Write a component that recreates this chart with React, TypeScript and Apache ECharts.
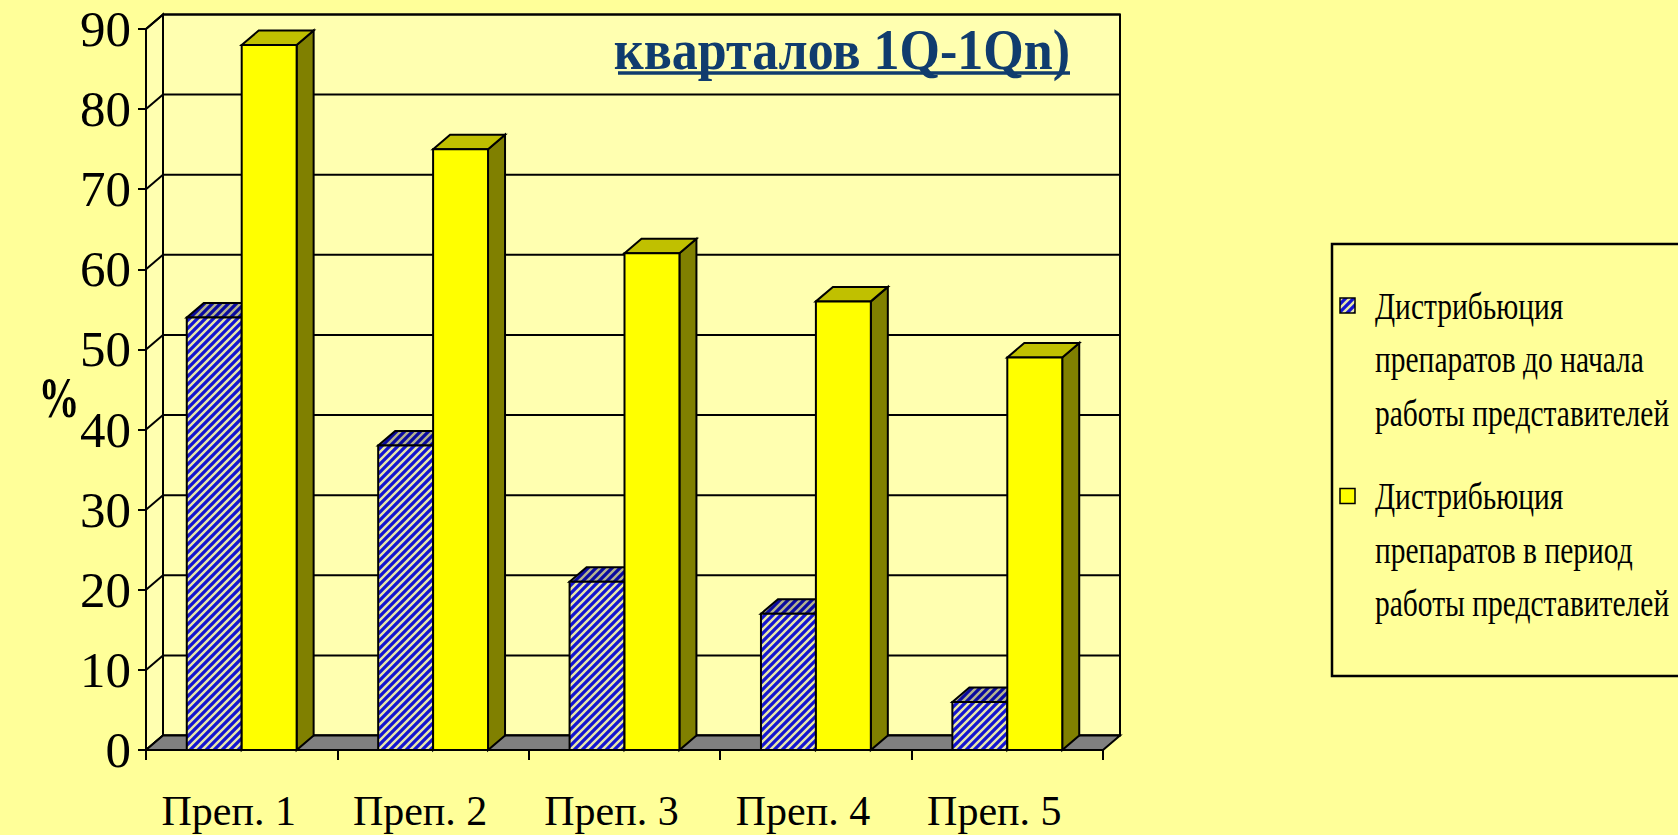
import React, { useEffect, useRef } from "react";
import * as echarts from "echarts";

// ---------- data ----------
const categories = ["Преп. 1", "Преп. 2", "Преп. 3", "Преп. 4", "Преп. 5"];
const beforeValues = [54, 38, 21, 17, 6];
const duringValues = [88, 75, 62, 56, 49];
const yTicks = [0, 10, 20, 30, 40, 50, 60, 70, 80, 90];
const seriesNames = [
  "Дистрибьюция препаратов до начала работы представителей",
  "Дистрибьюция препаратов в период работы представителей",
];
const legendLines1 = ["Дистрибьюция", "препаратов до начала", "работы представителей"];
const legendLines2 = ["Дистрибьюция", "препаратов в период", "работы представителей"];
const titleText = "кварталов 1Q-1Qn)";
const axisUnit = "%";

// ---------- style ----------
const FONT = "'Liberation Serif', 'Times New Roman', serif";
const BG = "#FFFF99";
const WALL = "#FFFFB0";
const DX = 17;
const DY = -14.5;
const BAR_FRAC = 0.287;
const LW = 2;

function hatch(bg: string, stripe: string) {
  const svg =
    `<svg xmlns="http://www.w3.org/2000/svg" width="8" height="8">` +
    `<rect width="8" height="8" fill="${bg}"/>` +
    `<path d="M-2 2L2 -2M0 8L8 0M6 10L10 6" stroke="${stripe}" stroke-width="2.4"/></svg>`;
  return {
    image: "data:image/svg+xml;charset=utf-8," + encodeURIComponent(svg),
    repeat: "repeat",
    imageWidth: 8,
    imageHeight: 8,
  } as any;
}

const hatchFront = hatch("#1414D0", "#E8E8A8");
const hatchTop = hatch("#0A0AA0", "#B4B48C");

function renderFrame(params: any, api: any) {
  const cs = params.coordSys;
  const x0 = cs.x;
  const x1 = cs.x + cs.width;
  const yBottom = api.coord([0, 0])[1];
  const yTop = api.coord([0, yTicks[yTicks.length - 1]])[1];
  const st = { stroke: "#000", lineWidth: LW };
  const children: any[] = [];
  children.push({
    type: "rect",
    shape: { x: x0 + DX, y: yTop + DY, width: x1 - x0, height: yBottom - yTop },
    style: { fill: WALL, ...st },
  });
  children.push({
    type: "polygon",
    shape: { points: [[x0, yTop], [x0 + DX, yTop + DY], [x0 + DX, yBottom + DY], [x0, yBottom]] },
    style: { fill: WALL, ...st },
  });
  yTicks.forEach((v) => {
    const y = api.coord([0, v])[1];
    children.push({
      type: "line",
      shape: { x1: x0 + DX, y1: y + DY, x2: x1 + DX, y2: y + DY },
      style: st,
    });
    children.push({
      type: "line",
      shape: { x1: x0, y1: y, x2: x0 + DX, y2: y + DY },
      style: st,
    });
  });
  children.push({
    type: "polygon",
    shape: { points: [[x0, yBottom], [x0 + DX, yBottom + DY], [x1 + DX, yBottom + DY], [x1, yBottom]] },
    style: { fill: "#808080", ...st },
  });
  return { type: "group", children };
}

function makeBarRender(side: number, front: any, sideFill: any, topFill: any) {
  return (params: any, api: any) => {
    const idx = api.value(0);
    const val = api.value(1);
    const p = api.coord([idx, val]);
    const cx = p[0];
    const yTop = p[1];
    const yBase = api.coord([idx, 0])[1];
    const band = api.size([1, 0])[0];
    const bw = band * BAR_FRAC;
    const xa = side < 0 ? cx - bw : cx;
    const xb = xa + bw;
    const st = { stroke: "#000", lineWidth: LW };
    return {
      type: "group",
      children: [
        {
          type: "polygon",
          shape: { points: [[xb, yTop], [xb + DX, yTop + DY], [xb + DX, yBase + DY], [xb, yBase]] },
          style: { fill: sideFill, ...st },
        },
        {
          type: "polygon",
          shape: { points: [[xa, yTop], [xa + DX, yTop + DY], [xb + DX, yTop + DY], [xb, yTop]] },
          style: { fill: topFill, ...st },
        },
        {
          type: "rect",
          shape: { x: xa, y: yTop, width: bw, height: yBase - yTop },
          style: { fill: front, ...st },
        },
      ],
    };
  };
}

function txt(x: number, y: number, text: string, font: string, fill: string, align: string, sy = 1) {
  return {
    type: "text",
    x,
    y,
    z: 20,
    scaleY: sy,
    style: {
      text,
      font,
      fill,
      align,
      verticalAlign: "middle",
      textAlign: align,
      textVerticalAlign: "middle",
    },
  };
}

function buildLegend() {
  const els: any[] = [];
  els.push({
    type: "rect",
    z: 15,
    shape: { x: 1332, y: 244, width: 400, height: 432 },
    style: { fill: "none", stroke: "#000", lineWidth: 2.5 },
  });
  const lineH = 53.5;
  const starts = [305, 495.5];
  const lines = [legendLines1, legendLines2];
  const marks = [hatchFront, "#FFFF00"];
  lines.forEach((ls, k) => {
    els.push({
      type: "rect",
      z: 20,
      shape: { x: 1340, y: starts[k] - 7, width: 15, height: 15 },
      style: { fill: marks[k], stroke: "#000", lineWidth: 1.5 },
    });
    ls.forEach((t, j) => {
      els.push(txt(1375, starts[k] + j * lineH, t, `29.5px ${FONT}`, "#000", "left", 1.32));
    });
  });
  return els;
}

function buildOption() {
  return {
    animation: false,
    backgroundColor: BG,
    grid: { left: 146, right: 575, top: 29, bottom: 85, containLabel: false },
    xAxis: {
      type: "category",
      data: categories,
      z: 10,
      axisLine: { show: true, lineStyle: { color: "#000", width: LW } },
      axisTick: { show: true, interval: 0, length: 10, lineStyle: { color: "#000", width: LW } },
      axisLabel: {
        interval: 0,
        fontFamily: FONT,
        fontSize: 42,
        color: "#000",
        margin: 61,
        verticalAlign: "middle",
        padding: [0, 26, 0, 0],
      },
      splitLine: { show: false },
    },
    yAxis: {
      type: "value",
      min: 0,
      max: 90,
      interval: 10,
      z: 10,
      axisLine: { show: true, lineStyle: { color: "#000", width: LW } },
      axisTick: { show: true, length: 8, lineStyle: { color: "#000", width: LW } },
      axisLabel: {
        fontFamily: FONT,
        fontSize: 51,
        color: "#000",
        margin: 15,
        verticalAlign: "middle",
        padding: [10, 0, 0, 0],
      },
      splitLine: { show: false },
    },
    series: [
      {
        type: "custom",
        name: "frame",
        z: 1,
        silent: true,
        clip: false,
        renderItem: renderFrame,
        data: [[0, 0]],
      },
      {
        type: "custom",
        name: seriesNames[0],
        z: 2,
        clip: false,
        renderItem: makeBarRender(-1, hatchFront, "#000080", hatchTop),
        data: categories.map((_, i) => [i, beforeValues[i]]),
      },
      {
        type: "custom",
        name: seriesNames[1],
        z: 3,
        clip: false,
        renderItem: makeBarRender(1, "#FFFF00", "#808000", "#C0C000"),
        data: categories.map((_, i) => [i, duringValues[i]]),
      },
    ],
    graphic: [
      txt(1070, 50, titleText, `bold 52px ${FONT}`, "#103C6E", "right", 1.1),
      {
        type: "line",
        z: 20,
        shape: { x1: 618, y1: 73, x2: 1070, y2: 73 },
        style: { stroke: "#103C6E", lineWidth: 3.5 },
      },
      txt(59, 398, axisUnit, `bold 41px ${FONT}`, "#000", "center", 1.4),
      ...buildLegend(),
    ],
  };
}

export default function App() {
  const ref = useRef<HTMLDivElement>(null);
  useEffect(() => {
    if (!ref.current) return;
    const chart = echarts.init(ref.current, null, { renderer: "svg" });
    chart.setOption(buildOption() as any);
    return () => chart.dispose();
  }, []);
  return (
    <div
      ref={ref}
      style={{ position: "fixed", left: 0, top: 0, width: 1678, height: 835 }}
    />
  );
}
